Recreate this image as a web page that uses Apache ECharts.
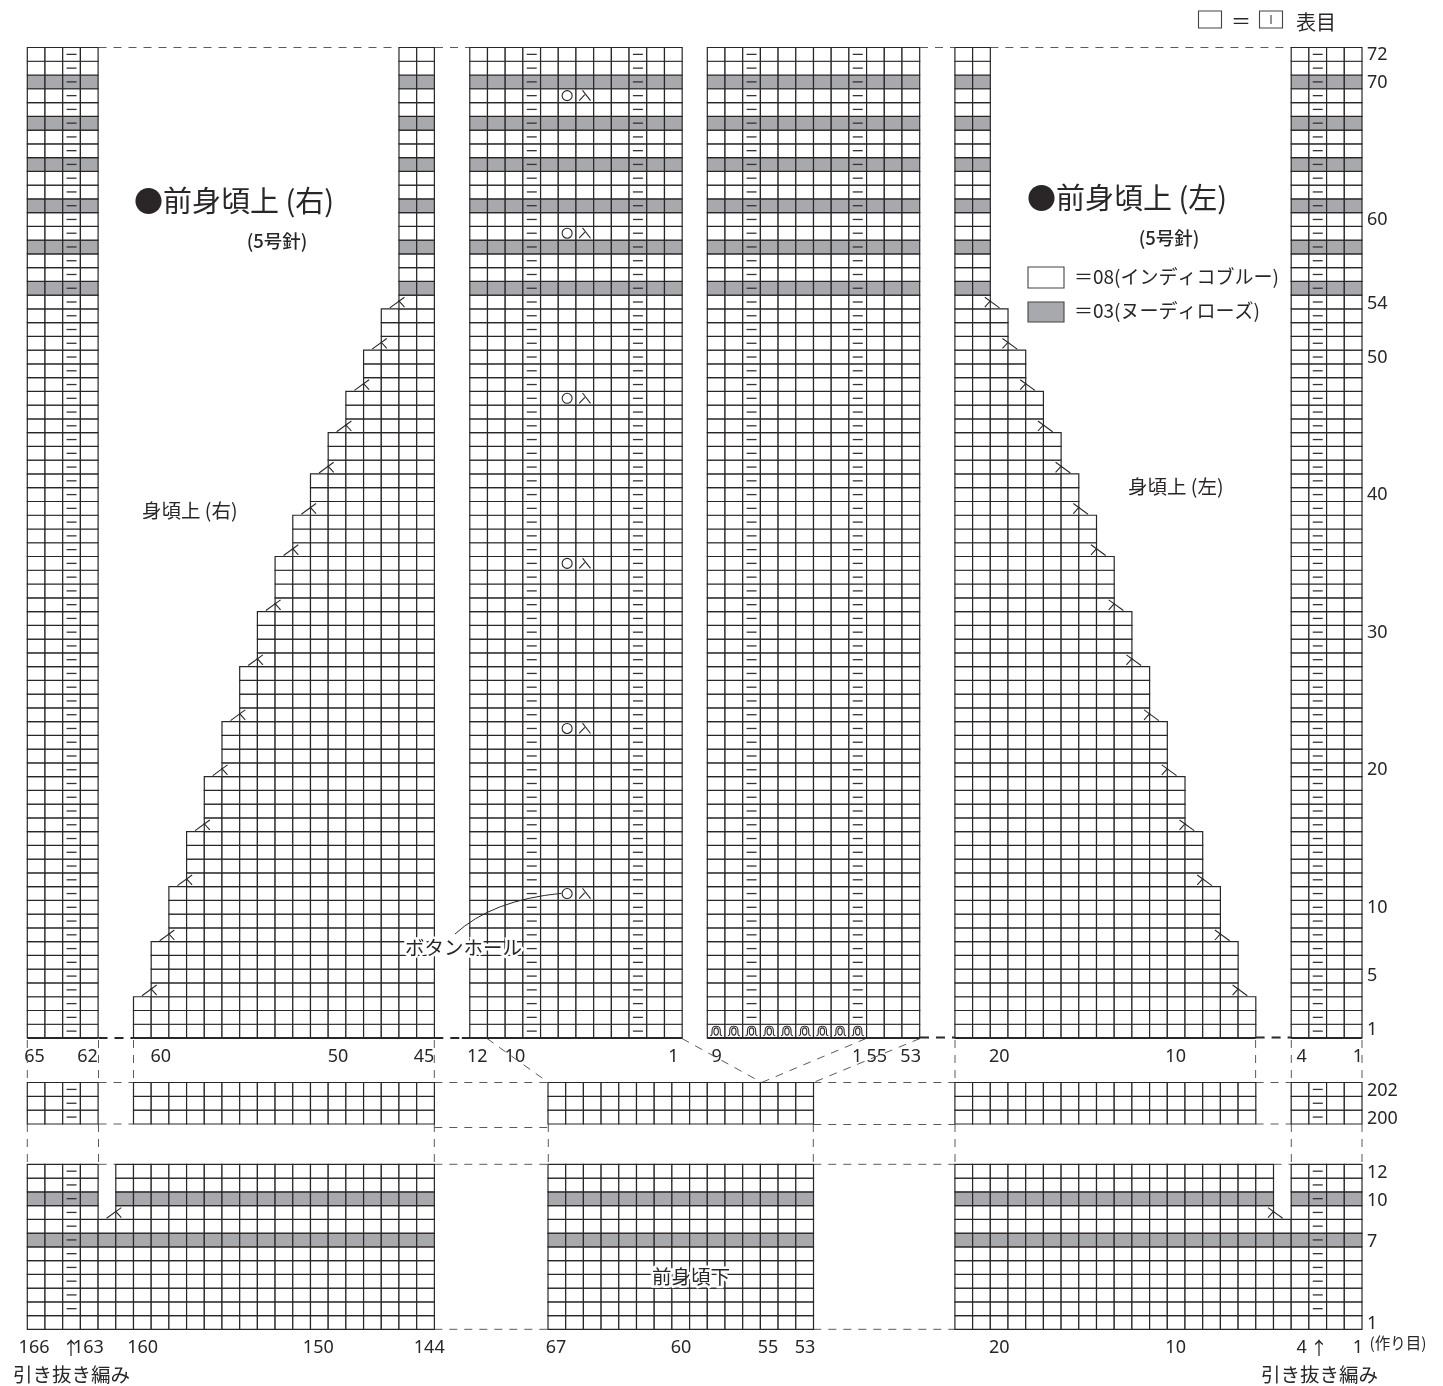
<!DOCTYPE html>
<html>
<head>
<meta charset="utf-8">
<style>html,body{margin:0;padding:0;background:#fff}#c{width:1443px;height:1386px}</style>
<script src="https://cdn.jsdelivr.net/npm/echarts@6/dist/echarts.min.js"></script>
</head>
<body>
<div id="c"></div>
<script>
// ---------- chart data ----------
const topRowCount = 72;
const midRowFirst = 200, midRowLast = 202;
const bottomRowCount = 12;
const grayRowsTop = [55, 58, 61, 64, 67, 70];
const grayRowsBottom = [7, 10];
const shapingStepHeights = [3, 4, 4, 4, 4, 4, 4, 4, 4, 3, 3, 3, 3, 3, 3, 19];
const eyeletRows = [11, 23, 35, 47, 59, 69];
const rowLabelsTop = [1, 5, 10, 20, 30, 40, 50, 54, 60, 70, 72];
const rowLabelPosTop = [0.62, 4.54, 9.48, 19.5, 29.47, 39.5, 49.45, 53.4, 59.45, 69.44, 71.5];
const rowLabelsMid = [200, 202];
const rowLabelsBottom = [1, 7, 10, 12];
const colLabelsTop = ['65', '62', '60', '50', '45', '12', '10', '1', '9', '1', '55', '53', '20', '10', '4', '1'];
const colLabelPosTop = [0.41, 3.40, 7.54, 17.55, 22.41, 25.42, 27.55, 36.5, 38.95, 46.88, 47.99, 49.91, 54.92, 64.88, 72.0, 75.18];
const colLabelsBottom = ['166', '163', '160', '150', '144', '67', '60', '55', '53', '20', '10', '4', '1'];
const colLabelPosBottom = [0.38, 3.45, 6.52, 16.44, 22.71, 29.87, 36.93, 41.85, 43.94, 54.92, 64.88, 72.0, 75.18];

// panel origins, in stitch-column units from the left edge
const originRightFront = 0, originBand = 25, originFacing = 38.42, originLeftFront = 52.41, originLowerMiddle = 29.42;
const bandCols = 12, facingCols = 12, lowerMiddleCols = 15, wideCols = 23;
const axisCols = 75.41;

// leader lines and notes on the page layer
const leaders = [
  [98.5,47.5,399,47.5],[435,47.5,470,47.5],[920,47.5,955,47.5],[990.4,47.5,1291,47.5],
  [27.3,1040,27.3,1082],[98.5,1040,98.5,1082],[133.5,1040,133.5,1082],[434.3,1040,434.3,1082],
  [955,1040,955,1082],[1255.6,1040,1255.6,1082],[1291.3,1040,1291.3,1082],[1362,1040,1362,1082],
  [487,1038.5,548.3,1082.5],[682,1038.5,761.7,1082.5],[866,1038.5,761.7,1082.5],[920,1038.5,813.3,1082.5],
  [98.5,1082.5,133.5,1082.5],[434.3,1082.5,548.3,1082.5],[813.3,1082.5,955,1082.5],[1255.6,1082.5,1291.3,1082.5],
  [98.5,1124,133.5,1124],[434.3,1127.5,548.3,1127.5],[813.3,1124.5,955,1124.5],[1255.6,1124,1291.3,1124],
  [27.3,1124,27.3,1164],[98.5,1124,98.5,1164],[434.3,1124,434.3,1164],[548.3,1124,548.3,1164],
  [813.3,1124,813.3,1164],[955,1124,955,1164],[1291.3,1124,1291.3,1164],[1362,1124,1362,1164],
  [98.5,1164.3,115.8,1164.3],[434.3,1164.3,548.3,1164.3],[813.3,1164.3,955,1164.3],[1273.6,1164.3,1291.3,1164.3],
  [434.3,1329.3,548.3,1329.3],[813.3,1329.3,955,1329.3]
];
const baselineGaps = [[98.5,1038,133.5,1038],[434.3,1038,470,1038],[920,1037.5,955,1037.5],[1255.6,1037.5,1291.3,1037.5]];
const notes = [
  [134,201,'●前身頃上 (右)',29,'left',0,400],
  [1027,198,'●前身頃上 (左)',29,'left',0,400],
  [277,241,'(5号針)',18.5,'center',0,500],
  [1169,238,'(5号針)',18.5,'center',0,500],
  [142,511,'身頃上 (右)',19.5,'left',0,400],
  [1128,487,'身頃上 (左)',19.5,'left',0,400],
  [405,948,'ボタンホール',19.5,'left',1,400],
  [652,1277,'前身頃下',19.5,'left',1,400],
  [13,1375,'引き抜き編み',19.5,'left',0,400],
  [1261,1375,'引き抜き編み',19.5,'left',0,400],
  [71,1348,'↑',18,'center',0,400],
  [1319,1348,'↑',18,'center',0,400],
  [1398,1343,'(作り目)',15.5,'center',0,400],
  [1074,277,'＝08(インディコブルー)',19,'left',0,400],
  [1074,311,'＝03(ヌーディローズ)',19,'left',0,400],
  [1231,21,'＝',20,'left',0,400],
  [1296,22,'表目',20,'left',0,400]
];
const legendBoxes = [
  [1028,267,36,21,'#ffffff'],[1028,302,36,20,'#a7a9ac'],
  [1198.5,11,23,17,'#ffffff'],[1259.5,11,23,17,'#ffffff']
];

// ---------- build cells from the arrays ----------
const INK = '#2a2627', GRAY = '#a7a9ac', GUIDE = '#5a5a5a';
function stepOfRow(r){
  let acc = 0;
  for (let s = 0; s < shapingStepHeights.length; s++){
    acc += shapingStepHeights[s];
    if (r <= acc) return s;
  }
  return shapingStepHeights.length - 1;
}
function pushBlock(cells, origin, cFrom, cTo, row, grays){
  for (let c = cFrom; c <= cTo; c++) cells.push([origin + c, row, grays.includes(row) ? 1 : 0]);
}
const topCells = [], midCells = [], bottomCells = [];
for (let r = 1; r <= topRowCount; r++){
  const s = stepOfRow(r);
  pushBlock(topCells, originRightFront, 0, 3, r, grayRowsTop);
  pushBlock(topCells, originRightFront, 6 + s, 22, r, grayRowsTop);
  pushBlock(topCells, originBand, 0, bandCols - 1, r, grayRowsTop);
  pushBlock(topCells, originFacing, 0, facingCols - 1, r, grayRowsTop);
  pushBlock(topCells, originLeftFront, 0, 16 - s, r, grayRowsTop);
  pushBlock(topCells, originLeftFront, 19, 22, r, grayRowsTop);
}
for (let r = midRowFirst; r <= midRowLast; r++){
  pushBlock(midCells, originRightFront, 0, 3, r, []);
  pushBlock(midCells, originRightFront, 6, 22, r, []);
  pushBlock(midCells, originLowerMiddle, 0, lowerMiddleCols - 1, r, []);
  pushBlock(midCells, originLeftFront, 0, 16, r, []);
  pushBlock(midCells, originLeftFront, 19, 22, r, []);
}
for (let r = 1; r <= bottomRowCount; r++){
  for (let c = 0; c < wideCols; c++){
    if (!(r > 8 && c === 4)) bottomCells.push([originRightFront + c, r, grayRowsBottom.includes(r) ? 1 : 0]);
    if (!(r > 8 && c === 18)) bottomCells.push([originLeftFront + c, r, grayRowsBottom.includes(r) ? 1 : 0]);
  }
  pushBlock(bottomCells, originLowerMiddle, 0, lowerMiddleCols - 1, r, grayRowsBottom);
}
const topDashes = [], midDashes = [], bottomDashes = [], twists = [], eyelets = [], decreasesTop = [];
for (let r = 1; r <= topRowCount; r++){
  topDashes.push([originRightFront + 2.5, r], [originBand + 3.5, r], [originBand + 9.5, r], [originLeftFront + 20.5, r]);
  if (r > 1) topDashes.push([originFacing + 2.5, r], [originFacing + 8.5, r]);
}
for (let c = 0; c < 9; c++) twists.push([originFacing + c + 0.5, 1]);
for (let r = midRowFirst; r <= midRowLast; r++) midDashes.push([originRightFront + 2.5, r], [originLeftFront + 20.5, r]);
for (let r = 2; r <= bottomRowCount; r++) bottomDashes.push([originRightFront + 2.5, r], [originLeftFront + 20.5, r]);
eyeletRows.forEach(r => eyelets.push([originBand + 5.5, r]));
let boundary = 0;
shapingStepHeights.slice(0, -1).forEach((h, s) => {
  boundary += h;
  decreasesTop.push([originRightFront + 7 + s, boundary, 1]);
  decreasesTop.push([originLeftFront + 16 - s, boundary, -1]);
});
const decreasesBottom = [[originRightFront + 5, 8, 1], [originLeftFront + 18, 8, -1]];

// ---------- render items ----------
function seg(x1, y1, x2, y2, w, col, dash){
  return {type:'line', shape:{x1, y1, x2, y2}, style:{stroke: col || INK, lineWidth: w || 1, lineDash: dash || null, fill:null}};
}
function renderCell(params, api){
  const a = api.coord([api.value(0), api.value(1) - 1]);
  const b = api.coord([api.value(0) + 1, api.value(1)]);
  return {type:'rect', shape:{x:a[0], y:b[1], width:b[0]-a[0], height:a[1]-b[1]},
    style:{fill: api.value(2) ? GRAY : '#fff', stroke: INK, lineWidth: 1.2}};
}
function renderDash(params, api){
  const p = api.coord([api.value(0), api.value(1) - 0.5]);
  return seg(p[0]-5, p[1], p[0]+5, p[1], 1.3, '#333');
}
function renderEyelet(params, api){
  const p = api.coord([api.value(0), api.value(1) - 0.5]);
  const q = api.coord([api.value(0) + 1, api.value(1) - 0.5]);
  return {type:'group', children:[
    {type:'circle', shape:{cx:p[0], cy:p[1], r:5}, style:{fill:'none', stroke:INK, lineWidth:1.1}},
    seg(q[0]-2.3, q[1]-5.3, q[0]+5.7, q[1]+5, 1.1),
    seg(q[0]-5.7, q[1]+5, q[0], q[1]-1, 1.1)
  ]};
}
function renderTwist(params, api){
  const p = api.coord([api.value(0), api.value(1) - 0.5]);
  const x = p[0], y = p[1];
  const st = {stroke:INK, lineWidth:1.1, fill:'none'};
  return {type:'group', children:[
    {type:'bezierCurve', shape:{x1:x-6, y1:y+4.5, cpx1:x-1.5, cpy1:y+5, cpx2:x-7.5, cpy2:y-5, x2:x, y2:y-4.8}, style:st},
    {type:'bezierCurve', shape:{x1:x, y1:y-4.8, cpx1:x+7.5, cpy1:y-5, cpx2:x+1.5, cpy2:y+5, x2:x+6, y2:y+4.5}, style:st},
    {type:'ellipse', shape:{cx:x, cy:y+0.4, rx:2.2, ry:3.6}, style:st}
  ]};
}
function renderDecrease(params, api){
  const p = api.coord([api.value(0), api.value(1)]);
  const d = api.value(2), x = p[0], y = p[1];
  return {type:'group', children:[
    seg(x - d*9.2, y - 1, x + d*5.5, y - 11.7, 1.1),
    seg(x - d*0.5, y - 8.4, x + d*5.5, y - 1.7, 1.1)
  ]};
}
function renderLeader(params, api){
  const a = api.coord([api.value(0), api.value(1)]);
  const b = api.coord([api.value(2), api.value(3)]);
  return seg(a[0], a[1], b[0], b[1], 1, GUIDE, [8, 7]);
}
function renderGap(params, api){
  const a = api.coord([api.value(0), api.value(1)]);
  const b = api.coord([api.value(2), api.value(3)]);
  return seg(a[0], a[1], b[0], b[1], 2, INK, [9, 7]);
}
function renderBaseline(params, api){
  const a = api.coord([api.value(0), 0]);
  const b = api.coord([api.value(1), 0]);
  return seg(a[0], a[1], b[0], b[1], 2.2, INK);
}
function renderBox(params, api){
  const a = api.coord([api.value(0), api.value(1)]);
  const b = api.coord([api.value(0) + api.value(2), api.value(1) + api.value(3)]);
  const i = params.dataIndex;
  const kids = [{type:'rect', shape:{x:a[0], y:a[1], width:b[0]-a[0], height:b[1]-a[1]},
    style:{fill: legendBoxes[i][4], stroke:'#444', lineWidth:1.1}}];
  if (i === 3) kids.push(seg((a[0]+b[0])/2, a[1]+4, (a[0]+b[0])/2, b[1]-4, 1, INK));
  return {type:'group', children:kids};
}
function renderNote(params, api){
  const n = notes[params.dataIndex];
  const p = api.coord([n[0], n[1]]);
  const st = {text:n[2], fontSize:n[3], fontWeight:n[6], fontFamily:'"Noto Sans CJK JP","Noto Sans",sans-serif',
    fill:INK, align:n[4], verticalAlign:'middle'};
  if (n[5]) { st.stroke = '#fff'; st.lineWidth = 5; }
  return {type:'text', x:p[0], y:p[1], style:st};
}
function renderButtonLead(params, api){
  const a = api.coord([455, 934]), b = api.coord([561.7, 893.3]), c = api.coord([492, 900]);
  return {type:'bezierCurve', shape:{x1:a[0], y1:a[1], x2:b[0], y2:b[1], cpx1:c[0], cpy1:c[1]},
    style:{stroke:INK, lineWidth:1, fill:'none'}};
}

// ---------- axes ----------
const LABEL = {color:INK, fontFamily:'"Noto Sans",sans-serif', fontSize:18};
function xAxisFor(gridIndex, pos, labels){
  const map = new Map(pos.map((v,i)=>[v,labels[i]]));
  return {type:'value', gridIndex, min:0, max:axisCols,
    axisLine:{show:false}, axisTick:{show:false}, splitLine:{show:false},
    axisLabel: pos.length ? Object.assign({show:true, margin:9.5, customValues:pos, formatter:v=>map.has(v)?map.get(v):''}, LABEL) : {show:false}};
}
function yAxisFor(gridIndex, min, max, pos, labels){
  const map = new Map(pos.map((v,i)=>[v,labels[i]]));
  return {type:'value', gridIndex, min, max, position:'right',
    axisLine:{show:false}, axisTick:{show:false}, splitLine:{show:false},
    axisLabel:Object.assign({show:true, margin:5, customValues:pos, formatter:v=>map.has(v)?String(map.get(v)):''}, LABEL)};
}
const gridLeft = 27.3, gridWidth = 1334.7;
const grid = [
  {left:gridLeft, width:gridWidth, top:47.5, height:990.5},
  {left:gridLeft, width:gridWidth, top:1082.5, height:41.5},
  {left:gridLeft, width:gridWidth, top:1164.3, height:165},
  {left:0, width:1443, top:0, height:1386}
];
const xAxis = [
  xAxisFor(0, colLabelPosTop, colLabelsTop),
  xAxisFor(1, [], []),
  xAxisFor(2, colLabelPosBottom, colLabelsBottom),
  {type:'value', gridIndex:3, min:0, max:1443, show:false}
];
const yAxis = [
  yAxisFor(0, 0, topRowCount, rowLabelPosTop, rowLabelsTop),
  yAxisFor(1, midRowFirst - 1, midRowLast, rowLabelsMid.map(v=>v-0.64), rowLabelsMid),
  yAxisFor(2, 0, bottomRowCount, rowLabelsBottom.map(v=>v-0.64), rowLabelsBottom),
  {type:'value', gridIndex:3, min:0, max:1386, inverse:true, show:false}
];
function layer(ax, data, renderItem, z){
  return {type:'custom', coordinateSystem:'cartesian2d', xAxisIndex:ax, yAxisIndex:ax,
    data, renderItem, silent:true, animation:false, clip:false, z:z||2};
}
const baselines = [
  [originRightFront,4],[6,23],[24.55,originBand+bandCols],[originFacing,originFacing+facingCols],
  [originLeftFront,originLeftFront+17],[originLeftFront+19,originLeftFront+23]
];
const series = [
  layer(3, leaders, renderLeader, 1),
  layer(3, baselineGaps, renderGap, 1),
  layer(0, topCells, renderCell),
  layer(1, midCells, renderCell),
  layer(2, bottomCells, renderCell),
  layer(0, baselines, renderBaseline, 3),
  layer(0, topDashes, renderDash, 4),
  layer(1, midDashes, renderDash, 4),
  layer(2, bottomDashes, renderDash, 4),
  layer(0, twists, renderTwist, 4),
  layer(0, eyelets, renderEyelet, 4),
  layer(0, decreasesTop, renderDecrease, 4),
  layer(2, decreasesBottom, renderDecrease, 4),
  layer(3, [[0]], renderButtonLead, 5),
  layer(3, legendBoxes.map(b=>b.slice(0,4)), renderBox, 5),
  layer(3, notes.map((n,i)=>[i]), renderNote, 6)
];
const chart = echarts.init(document.getElementById('c'), null, {renderer:'canvas', width:1443, height:1386});
chart.setOption({animation:false, backgroundColor:'#fff', tooltip:{show:false}, grid, xAxis, yAxis, series});
</script>
</body>
</html>
